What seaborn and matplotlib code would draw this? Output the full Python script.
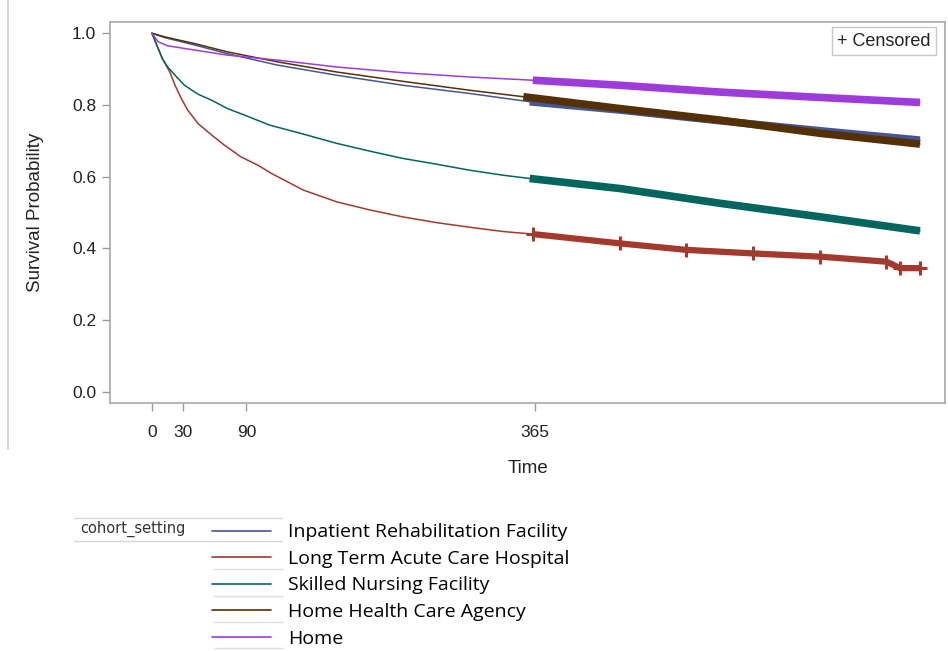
import numpy as np
import pandas as pd
import matplotlib.pyplot as plt
from matplotlib.lines import Line2D
import seaborn as sns

# Kaplan-Meier survival by discharge setting
irf_t = [0, 12, 41, 72, 120, 176, 239, 303, 360, 446, 541, 637, 732]
irf_s = [1.0, 0.988, 0.967, 0.943, 0.911, 0.883, 0.855, 0.832, 0.809, 0.786, 0.756, 0.728, 0.702]

ltach_t = [0, 6, 10, 17, 22, 28, 34, 44, 57, 69, 85, 101, 114, 144, 176, 208, 239, 271,
           303, 335, 363, 446, 509, 573, 637, 700, 713, 732]
ltach_s = [1.0, 0.957, 0.929, 0.892, 0.855, 0.818, 0.786, 0.748, 0.716, 0.688, 0.655, 0.632,
           0.609, 0.563, 0.530, 0.507, 0.488, 0.472, 0.459, 0.447, 0.440, 0.414, 0.396,
           0.386, 0.377, 0.363, 0.345, 0.345]

snf_t = [0, 6, 10, 15, 22, 31, 44, 57, 72, 88, 112, 144, 176, 208, 239, 271, 303, 335,
         360, 446, 541, 637, 732]
snf_s = [1.0, 0.957, 0.929, 0.906, 0.883, 0.855, 0.830, 0.813, 0.790, 0.772, 0.744, 0.719,
         0.693, 0.671, 0.651, 0.635, 0.618, 0.604, 0.595, 0.567, 0.526, 0.488, 0.449]

hha_t = [0, 12, 41, 72, 120, 176, 239, 303, 354, 446, 541, 637, 732]
hha_s = [1.0, 0.990, 0.971, 0.948, 0.920, 0.892, 0.866, 0.841, 0.823, 0.790, 0.758, 0.721, 0.691]

home_t = [0, 6, 15, 41, 72, 120, 176, 239, 303, 363, 446, 541, 637, 732]
home_s = [1.0, 0.976, 0.965, 0.953, 0.939, 0.925, 0.906, 0.890, 0.878, 0.869, 0.855, 0.836,
          0.821, 0.807]

cohorts = ["Inpatient Rehabilitation Facility", "Long Term Acute Care Hospital",
           "Skilled Nursing Facility", "Home Health Care Agency", "Home"]
times = [irf_t, ltach_t, snf_t, hha_t, home_t]
survs = [irf_s, ltach_s, snf_s, hha_s, home_s]
# first day where censored marks pile up (about one year)
censor_from = [360, 363, 360, 354, 363]
colors = ["#445694", "#A23A2E", "#01665E", "#543005", "#9D3CDB"]
x_ticks = [0, 30, 90, 365]
y_ticks = [0.0, 0.2, 0.4, 0.6, 0.8, 1.0]

rows = []
for name, t, s in zip(cohorts, times, survs):
    for ti, si in zip(t, s):
        rows.append({"cohort_setting": name, "time": ti, "surv": si})
df = pd.DataFrame(rows)

sns.set_theme(style="white")
plt.rcParams["font.family"] = ["Liberation Sans", "DejaVu Sans"]

fig = plt.figure(figsize=(9.48, 6.51), dpi=100)
ax = fig.add_axes([0.116, 0.381, 0.881, 0.585])

sns.lineplot(data=df, x="time", y="surv", hue="cohort_setting", hue_order=cohorts,
             palette=colors, estimator=None, sort=True, linewidth=1.1, legend=False, ax=ax)

# thick censored bands (dense '+' marks) past one year
for name, col, c0 in zip(cohorts, colors, censor_from):
    sub = df[(df["cohort_setting"] == name) & (df["time"] >= c0)]
    if name == "Long Term Acute Care Hospital":
        ax.plot(sub["time"], sub["surv"], color=col, lw=4.5, marker="+", ms=10, mew=2.2,
                solid_capstyle="butt")
    else:
        ax.plot(sub["time"], sub["surv"], color=col, lw=5.5, solid_capstyle="butt")

ax.set_xlim(-40, 756)
ax.set_ylim(-0.031, 1.031)
ax.set_xticks(x_ticks)
ax.set_yticks(y_ticks)
ax.set_yticklabels([f"{v:.1f}" for v in y_ticks])
ax.tick_params(axis="both", which="both", bottom=True, left=True, length=6, width=1,
               color="#9a9a9a", direction="out", labelsize=12.5, labelcolor="#222222")
ax.tick_params(axis="y", pad=4)
ax.tick_params(axis="x", pad=10)
for sp in ax.spines.values():
    sp.set_color("#a8a8a8")
    sp.set_linewidth(1.2)
ax.set_xlabel("Time", fontsize=13.5, labelpad=14, color="#222222")
ax.set_ylabel("Survival Probability", fontsize=13.5, labelpad=20, color="#222222")

# censored key box
ax.text(0.983, 0.950, "+ Censored", transform=ax.transAxes, ha="right", va="center",
        fontsize=13, color="#222222",
        bbox=dict(boxstyle="square,pad=0.3", fc="white", ec="#c8c8c8", lw=1))

# thin gray rule at the left edge of the graph area
fig.add_artist(Line2D([0.0085, 0.0085], [1.0, 0.31], color="#d0d0d0", lw=1.2))

# legend below the plot
handles = [Line2D([0], [0], color=c, lw=1.2) for c in colors]
leg = fig.legend(handles, cohorts, loc="upper left", bbox_to_anchor=(0.205, 0.223),
                 frameon=False, handlelength=3.05, handletextpad=0.87, labelspacing=0.44,
                 prop={"family": ["Open Sans", "DejaVu Sans"], "size": 14})
for txt in leg.get_texts():
    txt.set_color("black")
fig.text(0.085, 0.188, "cohort_setting", fontsize=10.5, color="#333333",
         family=["DejaVu Sans"], va="center")
fig.add_artist(Line2D([0.078, 0.297], [0.205, 0.205], color="#d8d8d8", lw=1))
fig.add_artist(Line2D([0.078, 0.297], [0.169, 0.169], color="#d8d8d8", lw=1))
# faint separators under the legend swatches
for yy in [0.126, 0.085, 0.044, 0.004]:
    fig.add_artist(Line2D([0.226, 0.298], [yy, yy], color="#e0e0e0", lw=1))

fig.savefig("out.png", dpi=100)
